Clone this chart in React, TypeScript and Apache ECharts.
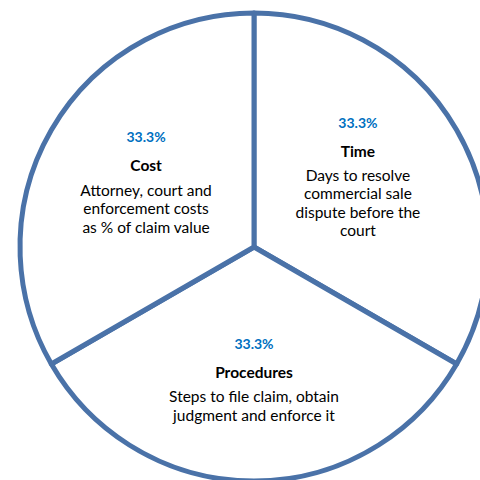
import React, { useEffect, useRef } from "react";
import * as echarts from "echarts";

const categories = ["Time", "Procedures", "Cost"];
const values = [1, 1, 1];
const descriptions = [
  "Days to resolve\ncommercial sale\ndispute before the\ncourt",
  "Steps to file claim, obtain\njudgment and enforce it",
  "Attorney, court and\nenforcement costs\nas % of claim value",
];

export default function App() {
  const ref = useRef<HTMLDivElement>(null);
  useEffect(() => {
    document.body.style.margin = "0";
    const chart = echarts.init(ref.current!, null, { renderer: "svg" });
    const pads: Record<string, number[]> = {
      Time: [0, 0, 26, 0],
      Procedures: [20, 0, 0, 0],
      Cost: [0, 8, 15, 0],
    };
    const data = categories.map((name, i) => ({
      name,
      value: values[i],
      label: { padding: pads[name] },
    }));
    chart.setOption({
      animation: false,
      backgroundColor: "#ffffff",
      series: [
        {
          type: "pie",
          center: [254, 247],
          radius: [0, 234],
          startAngle: 90,
          clockwise: true,
          data,
          itemStyle: { color: "#ffffff", borderColor: "#4a72a8", borderWidth: 5 },
          emphasis: { disabled: true },
          label: {
            show: true,
            position: "inside",
            align: "center",
            fontFamily: "Lato",
            formatter: (p: any) => {
              const d = descriptions[p.dataIndex];
              const lines = d.split("\n").map((l: string) => `{desc|${l}}`).join("\n");
              return `{pct|${p.percent.toFixed(1)}%}\n{title|${p.name}}\n${lines}`;
            },
            rich: {
              pct: { fontFamily: "Lato", fontSize: 14, fontWeight: "bold", color: "#0070c0", lineHeight: 27 },
              title: { fontFamily: "Lato", fontSize: 15.5, fontWeight: "bold", color: "#000000", lineHeight: 30 },
              desc: { fontFamily: "Lato", fontSize: 15.5, color: "#000000", lineHeight: 18.5 },
            },
          },
          labelLine: { show: false },
        },
      ],
    });
    return () => chart.dispose();
  }, []);
  return <div ref={ref} style={{ width: 480, height: 480 }} />;
}
